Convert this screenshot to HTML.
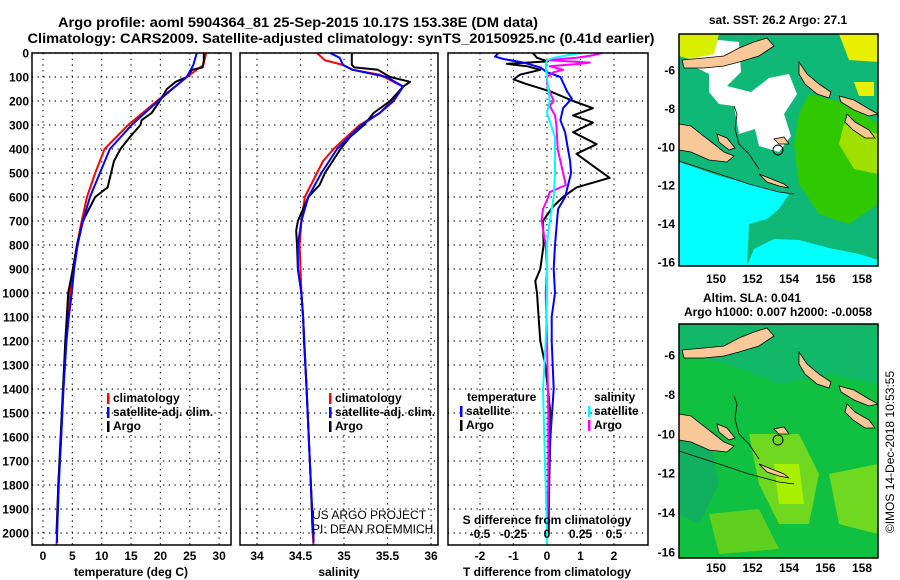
<!DOCTYPE html>
<html><head><meta charset="utf-8"><style>
body{margin:0;background:#fff;}
svg{display:block;font-family:"Liberation Sans",sans-serif;}
.b{font-weight:bold;font-size:12px;}
</style></head><body>
<svg id="c" width="900" height="580" xmlns="http://www.w3.org/2000/svg">
<text x="298" y="27" text-anchor="middle" font-size="14" font-weight="bold" textLength="480" lengthAdjust="spacingAndGlyphs">Argo profile: aoml 5904364_81 25-Sep-2015 10.17S 153.38E (DM data)</text>
<text x="341" y="43" text-anchor="middle" font-size="14" font-weight="bold" textLength="627" lengthAdjust="spacingAndGlyphs">Climatology: CARS2009. Satellite-adjusted climatology: synTS_20150925.nc (0.41d earlier)</text>
<g id="grid"></g>
<g id="lines"></g>
<g id="axes"></g>
<defs>
<g id="land">
<path d="M3,26 L25,24 L45,22 L60,14 L75,8 L88,4 L95,12 L80,22 L60,28 L45,32 L25,34 L5,34 Z" fill="#f8c898" stroke="#000" stroke-width="0.8"/>
<path d="M120,28 L128,40 L140,50 L152,58 L150,64 L138,60 L126,50 L120,40 Z" fill="#f8c898" stroke="#000" stroke-width="0.8"/>
<path d="M160,62 L175,66 L190,75 L199,80 L190,82 L175,76 L162,68 Z" fill="#f8c898" stroke="#000" stroke-width="0.8"/>
<path d="M168,80 L176,88 L190,96 L196,104 L186,104 L174,96 L166,88 Z" fill="#f8c898" stroke="#000" stroke-width="0.8"/>
<path d="M0,90 L12,92 L22,100 L35,110 L45,118 L55,122 L48,128 L30,126 L12,118 L0,116 Z" fill="#f8c898" stroke="#000" stroke-width="0.8"/>
<path d="M38,100 L48,104 L56,114 L50,116 L40,108 Z" fill="#f8c898" stroke="#000" stroke-width="0.8"/>
<path d="M95,105 L105,103 L110,110 L100,110 Z" fill="#f8c898" stroke="#000" stroke-width="0.8"/>
<path d="M80,140 L95,146 L105,150 L110,154 L100,152 L88,148 Z" fill="#f8c898" stroke="#000" stroke-width="0.8"/>
<path d="M0,127 L40,140 L70,150 L100,158 L115,160" fill="none" stroke="#000" stroke-width="0.8"/>
<path d="M55,72 L58,80 L56,95 L60,110 L70,120 L80,135" fill="none" stroke="#000" stroke-width="0.8"/>
<circle cx="99" cy="116" r="5" fill="none" stroke="#000" stroke-width="1"/>
</g>
</defs>
<g transform="translate(679,34)">
<rect width="199" height="232" fill="#10b878"/>
<path d="M0,128 L40,142 L80,152 L110,160 L100,175 L88,185 L70,190 L68,232 L0,232 Z" fill="#00ffff"/>
<path d="M95,205 L120,206 L150,214 L180,220 L199,226 L199,232 L68,232 L75,215 Z" fill="#00ffff"/>
<path d="M10,12 L40,6 L60,8 L62,38 L48,52 L72,58 L90,44 L110,40 L118,60 L105,80 L112,102 L100,118 L80,112 L76,95 L60,100 L55,72 L40,70 L30,58 L30,40 L10,30 Z" fill="#fff"/>
<path d="M120,118 L140,116 L142,132 L122,132 Z" fill="#fff"/>
<path d="M0,0 L40,0 L35,20 L10,25 L0,22 Z" fill="#d8f000"/>
<path d="M160,0 L199,0 L199,28 L170,26 Z" fill="#e8f000"/>
<path d="M130,60 L170,70 L199,90 L199,170 L170,190 L140,180 L120,150 L115,110 L120,80 Z" fill="#30c800"/>
<path d="M165,90 L199,100 L199,140 L175,135 L160,110 Z" fill="#a0e000"/>
<path d="M175,48 L195,48 L195,62 L180,62 Z" fill="#e8f000"/>
<use href="#land"/>
<rect width="199" height="232" fill="none" stroke="#000" stroke-width="1.5"/>
</g>
<g transform="translate(679,324)">
<rect width="199" height="234" fill="#10c040"/>
<path d="M0,0 L199,0 L199,60 L150,50 L100,60 L50,40 L0,30 Z" fill="#10b868"/>
<path d="M0,100 L30,110 L40,160 L20,200 L0,190 Z" fill="#10b060"/>
<path d="M70,110 L120,110 L140,150 L130,200 L100,200 L80,160 Z" fill="#70d820"/>
<path d="M95,140 L120,140 L125,180 L100,180 Z" fill="#a8f000"/>
<path d="M150,150 L199,140 L199,210 L160,200 Z" fill="#70d820"/>
<path d="M30,190 L80,185 L100,225 L40,230 Z" fill="#60d020"/>
<use href="#land"/>
<rect width="199" height="234" fill="none" stroke="#000" stroke-width="1.5"/>
</g>
<text class="b" x="778" y="24" text-anchor="middle" font-size="12">sat. SST: 26.2 Argo: 27.1</text>
<text class="b" x="752" y="302" text-anchor="middle">Altim. SLA: 0.041</text>
<text class="b" x="778" y="316" text-anchor="middle">Argo h1000: 0.007 h2000: -0.0058</text>
<text x="894" y="452" font-size="12" text-anchor="middle" transform="rotate(-90 894 452)">©IMOS 14-Dec-2018 10:53:55</text>
<text x="312" y="519" font-size="12">US ARGO PROJECT</text>
<text x="312" y="533" font-size="12">PI: DEAN ROEMMICH</text>
<g id="mapaxes"></g>
</svg>
<script>
// depths (dbar)
const tClimD=[0,50,100,200,300,400,500,600,700,800,900,1000,1100,1200,1400,1600,1800,2000,2050];
const tClim=[27.8,27.3,24.5,19.4,14.5,10.5,8.9,7.5,6.6,5.8,5.1,4.6,4.2,3.9,3.4,3.1,2.6,2.4,2.3];
const tSatD=[0,50,100,200,300,400,500,600,700,800,900,1000,1100,1200,1400,1600,1800,2000,2040];
const tSat=[26.2,25.6,24.5,19.6,15.1,11.4,9.7,8.0,6.8,5.9,5.3,4.9,4.4,4.0,3.5,3.1,2.7,2.4,2.4];
const tArgoD=[0,30,60,70,100,120,150,200,250,280,300,350,400,450,500,560,600,700,800,900,1000,1200,1400,1600,1800,2000];
const tArgo=[27.4,27.4,27.2,25.4,24.5,22.6,21.1,19.9,18.5,16.8,16.6,14.8,13.2,12.1,11.6,11.0,8.9,6.8,5.8,5.1,4.3,3.8,3.4,3.0,2.6,2.3];
const sClimD=[0,30,50,70,90,120,140,200,250,300,350,400,450,500,600,700,800,1000,1100,1400,1800,2000,2050];
const sClim=[34.69,34.78,34.99,35.1,35.41,35.57,35.68,35.55,35.41,35.18,35.03,34.88,34.76,34.69,34.55,34.51,34.49,34.51,34.53,34.57,34.62,34.64,34.65];
const sSatD=[0,20,50,70,100,140,200,250,300,400,500,600,700,800,900,1000,1100,1400,1800,2000,2040];
const sSat=[34.84,34.95,34.99,35.1,35.49,35.68,35.57,35.41,35.2,34.92,34.74,34.59,34.51,34.47,34.47,34.51,34.53,34.57,34.62,34.65,34.65];
const sArgoD=[0,50,60,70,100,120,140,200,250,300,350,400,500,550,600,700,740,800,900,1000,1100,1200,1400,1800,2000];
const sArgo=[35.09,35.09,35.12,35.39,35.53,35.76,35.68,35.53,35.34,35.23,35.07,34.96,34.78,34.72,34.59,34.47,34.45,34.46,34.47,34.51,34.53,34.54,34.57,34.62,34.64];
const dTSatD=[0,15,25,40,60,80,100,130,160,190,230,280,330,380,450,500,550,600,650,700,800,900,1000,1100,1200,1400,1600,1800,2000,2050];
const dTSat=[-1.45,-1.55,-1.3,-0.7,-0.2,0,0.4,0.5,0.6,0.74,0.48,0.4,0.54,0.6,0.69,0.72,0.63,0.54,0.33,0.3,0.24,0.2,0.24,0.14,0.14,0.2,0.1,0.05,0,0];
const dTArgoD=[0,20,35,45,55,70,90,110,130,160,200,230,260,290,330,380,420,470,520,560,600,640,700,800,900,950,1000,1100,1200,1300,1500,1700,1900,2000];
const dTArgo=[-0.42,-0.3,0.03,-1.2,-0.6,-0.2,-0.8,-1.0,-0.6,0.1,0.78,1.37,0.78,1.37,0.78,1.48,0.88,1.37,1.87,0.88,0.48,0.18,-0.12,-0.1,-0.2,-0.35,-0.3,-0.25,-0.2,-0.05,0.1,0.08,0.05,0.05];
const dSArgoD=[0,10,20,25,30,40,45,55,70,80,100,130,160,200,220,260,300,400,450,500,550,580,600,650,700,800,900,1000,1200,1500,1800,2000];
const dSArgo=[0.41,0.34,0.22,0.1,0.02,0.32,0.25,0.02,0.12,0.05,0,0,0.02,0.05,0.02,0.06,0.07,0.08,0.1,0.12,0.14,0.02,0.01,-0.03,-0.04,-0.01,0,-0.01,0,0.01,0.01,0];
const dSSatD=[0,10,20,30,50,100,150,200,250,300,350,400,500,600,700,800,1000,1200,1400,1600,1800,2000,2050];
const dSSat=[0.25,0.15,0.05,0,-0.01,0,0.01,0.02,0,0.03,0.06,0.06,0.06,0.05,0.02,0,0,-0.01,-0.03,-0.02,-0.01,0,0];
const depthTicks=[0,100,200,300,400,500,600,700,800,900,1000,1100,1200,1300,1400,1500,1600,1700,1800,1900,2000];
const tTicks=[0,5,10,15,20,25,30];
const sTicks=[34,34.5,35,35.5,36];
const dTTicks=[-2,-1,0,1,2];
const dSTicks=[-0.5,-0.25,0,0.25,0.5];
const latTicks=[-6,-8,-10,-12,-14,-16];
const lonTicks=[150,152,154,156,158];

const NS='http://www.w3.org/2000/svg';
const Y=d=>53+d*0.24;
const xT=v=>43+v*5.87, xS=v=>257+(v-34)*87, xDT=v=>547+v*33.5, xDS=v=>547+v*134;
const panels=[[32,231],[240,438],[448,648]];
const topY=53,botY=545;
function el(tag,attrs,parent,txt){const e=document.createElementNS(NS,tag);for(const k in attrs)e.setAttribute(k,attrs[k]);if(txt!==undefined)e.textContent=txt;document.getElementById(parent).appendChild(e);return e;}
panels.forEach(p=>{
  depthTicks.forEach(d=>{const g=el('line',{x1:p[0],x2:p[1],y1:Y(d),y2:Y(d),stroke:'#000','stroke-width':1.2,'stroke-dasharray':'1.2 4.5'},'grid');
    
    });
});
[[tTicks,xT],[sTicks,xS],[dTTicks,xDT]].forEach(([tk,f])=>tk.forEach(v=>{const g=el('line',{x1:f(v),x2:f(v),y1:topY,y2:botY,stroke:'#000','stroke-width':1.2,'stroke-dasharray':'1.2 4.5'},'grid');
  
  }));
function line(xs,ds,f,color,name){
  const pts=xs.map((v,i)=>f(v).toFixed(1)+','+Y(ds[i]).toFixed(1)).join(' ');
  const l=el('polyline',{points:pts,fill:'none',stroke:color,'stroke-width':2,'stroke-linejoin':'round'},'lines');
  
  
}
line(tClim,tClimD,xT,'#ff0000','temp-climatology-line');
line(tArgo,tArgoD,xT,'#000','temp-argo-line');
line(tSat,tSatD,xT,'#0000ff','temp-satellite-line');
line(sClim,sClimD,xS,'#ff0000','sal-climatology-line');
line(sArgo,sArgoD,xS,'#000','sal-argo-line');
line(sSat,sSatD,xS,'#0000ff','sal-satellite-line');
line(dTArgo,dTArgoD,xDT,'#000','tdiff-argo-line');
line(dTSat,dTSatD,xDT,'#0000ff','tdiff-satellite-line');
line(dSArgo,dSArgoD,xDS,'#ff00ff','sdiff-argo-line');
line(dSSat,dSSatD,xDS,'#00ffff','sdiff-satellite-line');
panels.forEach(p=>{const r=el('rect',{x:p[0],y:topY,width:p[1]-p[0],height:botY-topY,fill:'none',stroke:'#000','stroke-width':1.5},'axes');
  
  });
depthTicks.forEach(d=>{const t=el('text',{x:29,y:Y(d)+4.5,'text-anchor':'end',class:'b'},'axes',String(d));
  
  });
function xlab(tk,f,y,name){tk.forEach(v=>{const t=el('text',{x:f(v),y:y,'text-anchor':'middle',class:'b'},'axes',String(v));
  
  });}
xlab(tTicks,xT,560,'temp-tick-label');
xlab(sTicks,xS,560,'sal-tick-label');
xlab(dTTicks,xDT,560,'tdiff-tick-label');
xlab(dSTicks,xDS,538,'sdiff-tick-label');
[['temperature (deg C)',131,'temp-axis-title'],['salinity',339,'sal-axis-title'],['T difference from climatology',547,'tdiff-axis-title'],['S difference from climatology',547,'sdiff-axis-title']].forEach(([s,x,n],i)=>{
  const t=el('text',{x:x,y:i==3?524:576,'text-anchor':'middle',class:'b'},'axes',s);
  
  });
function leg(x,y,color,label){const r=el('rect',{x:x,y:y-9,width:2.5,height:11,fill:color},'axes');
  
  
  const t=el('text',{x:x+6,y:y,class:'b'},'axes',label);
  
  }
leg(107,402,'#ff0000','climatology');leg(107,416,'#0000ff','satellite-adj. clim.');leg(107,430,'#000','Argo');
leg(329,402,'#ff0000','climatology');leg(329,416,'#0000ff','satellite-adj. clim.');leg(329,430,'#000','Argo');
leg(460,415,'#0000ff','satellite');leg(460,429,'#000','Argo');leg(588,415,'#00ffff','satellite');leg(588,429,'#ff00ff','Argo');
[['temperature',467],['salinity',594]].forEach(([s,x])=>{const t=el('text',{x:x,y:401,class:'b'},'axes',s);
  
  });
const lonX=v=>716+(v-150)*18.25;
[[70,19.2,283],[355,19.7,572]].forEach(([y6,k,ly])=>{
  latTicks.forEach(v=>{const t=el('text',{x:675,y:y6+(-6-v)*k+4.5,'text-anchor':'end',class:'b'},'mapaxes',String(v));
    
    });
  lonTicks.forEach(v=>{const t=el('text',{x:lonX(v),y:ly,'text-anchor':'middle',class:'b'},'mapaxes',String(v));
    
    });
});
</script>
</body></html>
